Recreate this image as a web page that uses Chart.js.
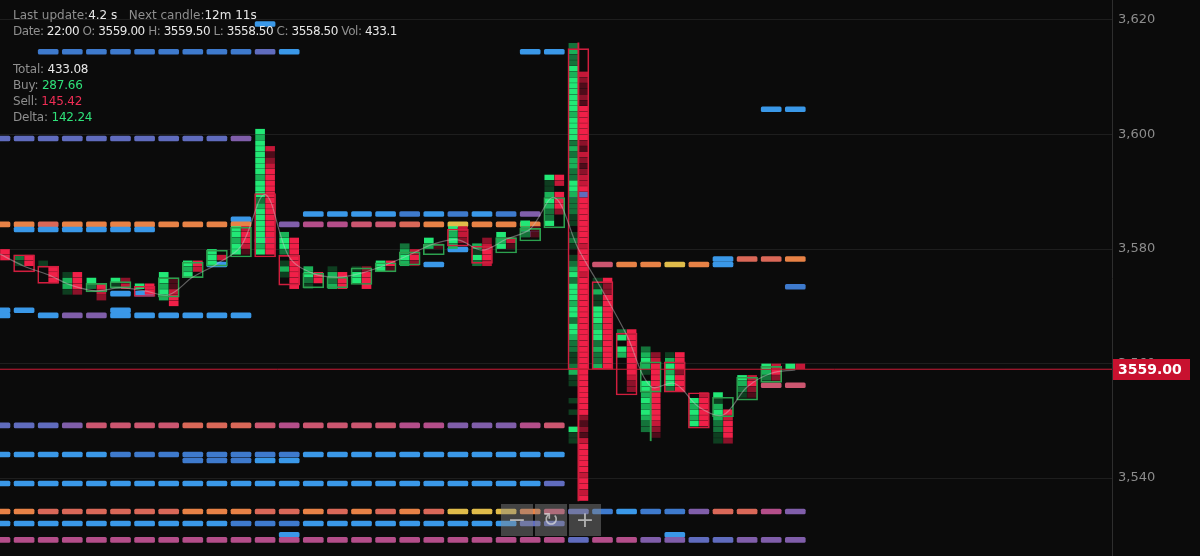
<!DOCTYPE html>
<html><head><meta charset="utf-8">
<script src="https://cdn.jsdelivr.net/npm/chart.js@4/dist/chart.umd.min.js"></script>
<style>
html,body{margin:0;padding:0;background:#0b0b0b;}
#wrap{position:relative;width:1200px;height:556px;overflow:hidden;background:#0b0b0b;}
canvas{position:absolute;left:0;top:0;}
.info{position:absolute;left:13px;font:12px "DejaVu Sans",sans-serif;color:#8f8f8f;line-height:16px;white-space:pre;}
.tight{letter-spacing:-0.45px}
.v{color:#e8e8e8}
.g{color:#2fe27a}
.r{color:#ef2d55}
.btn{position:absolute;top:504px;width:32px;height:32px;background:rgba(135,135,135,0.45);color:rgba(225,225,225,0.7);font:22px "DejaVu Sans",sans-serif;text-align:center;line-height:31px;}
</style></head>
<body>
<div id="wrap">
<canvas id="c" width="1200" height="556"></canvas>
<div class="info" style="top:7px">Last update:<span class="v">4.2 s</span>   Next candle:<span class="v">12m 11s</span></div>
<div class="info tight" style="top:23px">Date: <span class="v">22:00</span> O: <span class="v">3559.00</span> H: <span class="v">3559.50</span> L: <span class="v">3558.50</span> C: <span class="v">3558.50</span> Vol: <span class="v">433.1</span></div>
<div class="info" style="top:61px;letter-spacing:-0.2px">Total: <span class="v">433.08</span>
Buy: <span class="g">287.66</span>
Sell: <span class="r">145.42</span>
Delta: <span class="g">142.24</span></div>
<div class="btn" style="left:501px">−</div>
<div class="btn" style="left:535px;font-size:19px">↻</div>
<div class="btn" style="left:569px">+</div>
</div>
<script>
// ---- data ----
const yTicks = [3540, 3560, 3580, 3600, 3620];
const lastPrice = 3559.00;

// footprint: top edge of first cell and intensities (0-4) per cell going down
const buyTop = [3580,3579,3578,3576,3575,3575,3574,3576,3578,3580,3584,3601,3583,3577,3577,3577,3578,3581,3582,3584,3581,3583,3585,3593,3616,3575,3566,3563,3562,3554,3555,3558,3560,3560];
const buyCells = ["22","21","1","1331","42","41","4","44343","434","444","44344",
 "4344444434442344444434","344201310","3421","1323","144","44","2343","43","4343","3142","434","432","411343224",
 "2322"+"434444"+"4434444"+"2323322"+"4432"+"221101210"+"1234"+"24443442443"+"22112"+"3"+"110010100"+"4"+"11",
 "1131144434423223","24043","234310443434322","1343442","43434","413432211","4321","432","4"];
const sellTop = [3580,3579,3577,3576,3574,3575,3574,3575,3578,3579,3584,3598,3582,3576,3576,3577,3578,3580,3581,3584,3582,3582,3584,3593,3611,3575,3566,3562,3562,3555,3552,3558,3560,3560];
const sellCells = ["44","44","444","4442","432","23","44","11344","43","3","34431",
 "3123444444444444444","444444444","44","444","2444","41","342","1","332","23443","31","11","4304442",
 "3"+"21121"+"444444"+"2132123"+"340"+"4444444434444"+"3444444444444444"+"444444444"+"21213"+"4444434434",
 "4224444444444444","44444444322","234444444444321","4442444","344444","434442","3421","342","3"];

// candle bodies (open / close)
const bodyOpen  = [null,3579,3577,null,3572.5,3573.2,3573.5,3571.6,3575,3577,3578.6,3589.7,3578.9,3573.2,3573.2,3573.8,3576,3577.2,3579,3583.5,3580.5,3579.3,3581.4,3583.7,3615,3574.3,3565.3,3555,3560.3,3554.9,3550.7,3553.6,3556.7,null];
const bodyClose = [null,3576,3574,null,3574,3574.3,3571.7,3575,3577.7,3579.8,3583.8,3578.6,3573.7,3575.8,3575.1,3576.7,3577.6,3579.5,3580.8,3580.5,3577.5,3582,3583.6,3589,3559,3559,3554.5,3560.3,3555,3548.7,3554.1,3557.6,3559.5,null];
// visible wicks (high / low), null where hidden by the cells
const wickHigh = [null,null,null,null,null,null,null,null,null,null,null,null,null,null,null,null,null,null,null,null,null,null,null,null,3616,null,null,3556,null,null,null,null,null,null];
const wickLow  = [null,null,null,null,null,null,null,null,null,null,null,null,null,null,null,null,null,null,null,null,null,null,null,null,3536,null,null,3546.5,null,null,null,null,null,null];

// moving average line
const avgLine = [3579.1,3577.0,3575.5,3573.6,3572.7,3573.2,3572.7,3572.0,3575.1,3577.4,3580.5,3589.5,3578.6,3575.7,3575.1,3575.8,3577.2,3579.0,3580.9,3581.6,3579.8,3581.7,3583.5,3589.0,3580.0,3572.7,3565.0,3556.0,3556.5,3552.4,3551.0,3555.9,3558.3,3558.9];

// resting liquidity levels: price, first candle, level per candle (0 = none)
const dashPrice = [3619.3,3614.45,3614.45,3604.4,3599.3,3589.5,3586.1,3585.2,3584.3,3583.4,3582.6,3581.5,3579.9,3578.25,3577.3,3573.4,3572.2,3569.3,3568.4,3556.2,3549.2,3544.1,3543.05,3539.05,3534.15,3532.05,3530.1,3529.2];
const dashStart = [11,2,22,32,0,24,13,10,0,1,22,11,19,30,9,33,5,0,0,32,0,0,8,0,0,0,12,0];
const dashLevels = ["2","11111111132","22","22","33333333334","3","2222121214","2",
 "88788888888045566789888","222222","4","3","2","2778","2000000002000000688982","1","22","220002","20244222222","66",
 "333466667776566665544456","222221111111122222222222","11122","222222222222222222222223",
 "8877777788877878787999863121147754","222222222211122222222233","20000000000000002",
 "5555555555555555555555553554433444"];

// ---- styles ----
const greenRamp = [null,'rgb(14,62,32)','rgb(20,115,58)','rgb(26,178,88)','rgb(34,232,118)'];
const redRamp = [null,'rgb(78,12,26)','rgb(140,18,42)','rgb(196,24,56)','rgb(240,32,72)'];
const dashRamp = [null,'rgb(62,122,205)','rgb(58,152,232)','rgb(96,108,190)','rgb(128,94,170)','rgb(180,78,138)','rgb(204,86,112)','rgb(218,104,88)','rgb(232,130,70)','rgb(224,188,74)'];
const PX_PER_CANDLE = 24.1;
const colOff = 5 / PX_PER_CANDLE;

function cells(tops, strs, off) {
  const out = [];
  tops.forEach((top, k) => {
    const s = strs[k];
    for (let i = 0; i < s.length; i++) {
      const v = +s[i];
      if (!v) continue;
      const lo = top - i - 1;
      out.push({x: k + off, y: [lo + 0.08, lo + 0.92], v});
    }
  });
  return out;
}
const dashes = [];
dashPrice.forEach((p, r) => {
  const s = dashLevels[r];
  for (let j = 0; j < s.length; j++) {
    const v = +s[j];
    if (!v) continue;
    dashes.push({x: dashStart[r] + j, y: [p - 0.43, p + 0.43], v});
  }
});
const bodies = [];
const wicks = [];
bodyOpen.forEach((o, k) => {
  const c = bodyClose[k];
  if (o != null && c != null) bodies.push({x: k, y: [o, c], up: c > o});
  if (wickHigh[k] != null) wicks.push({x: k, y: [wickLow[k], wickHigh[k]], up: c > o});
});

const priceTag = {
  id: 'priceTag',
  afterDraw(chart) {
    const {ctx, scales: {y}} = chart;
    const py = y.getPixelForValue(lastPrice);
    ctx.save();
    ctx.fillStyle = '#c8112f';
    ctx.fillRect(y.left + 1, Math.round(py) - 10, 77, 21);
    ctx.fillStyle = '#ffffff';
    ctx.font = 'bold 14px "DejaVu Sans"';
    ctx.textBaseline = 'middle';
    ctx.fillText(lastPrice.toFixed(2), y.left + 6, Math.round(py) + 1);
    ctx.restore();
  }
};

new Chart(document.getElementById('c'), {
  type: 'bar',
  data: {
    datasets: [
      {type: 'line', data: [{x: -1, y: lastPrice}, {x: 60, y: lastPrice}], borderColor: 'rgb(205,28,55)', borderWidth: 1, pointRadius: 0, order: 0},
      {type: 'line', data: avgLine.map((v, k) => ({x: k, y: v})), borderColor: 'rgba(200,200,200,0.45)', borderWidth: 1.2, pointRadius: 0, tension: 0.35, order: 1},
      {data: bodies, grouped: false, barThickness: 21, backgroundColor: 'rgba(0,0,0,0)', borderWidth: 1, borderSkipped: false,
       borderColor: c => c.raw && c.raw.up ? 'rgb(44,160,78)' : 'rgb(208,30,62)', order: 2},
      {data: wicks, grouped: false, barThickness: 1.2, backgroundColor: c => c.raw && c.raw.up ? 'rgb(44,160,78)' : 'rgb(208,30,62)', order: 2},
      {data: cells(buyTop, buyCells, -colOff), grouped: false, barThickness: 9, backgroundColor: c => greenRamp[c.raw ? c.raw.v : 4], order: 3},
      {data: cells(sellTop, sellCells, colOff), grouped: false, barThickness: 9, backgroundColor: c => redRamp[c.raw ? c.raw.v : 4], order: 3},
      {data: dashes, grouped: false, barThickness: 20, borderRadius: 1.5, borderSkipped: false, backgroundColor: c => dashRamp[c.raw ? c.raw.v : 2], order: 4}
    ]
  },
  options: {
    responsive: false, animation: false, devicePixelRatio: 1,
    layout: {padding: 0},
    plugins: {legend: {display: false}, tooltip: {enabled: false}},
    scales: {
      x: {type: 'linear', min: 0, max: 1112 / PX_PER_CANDLE, display: false, offset: false},
      y: {type: 'linear', position: 'right', min: 3526.38, max: 3623.49,
        afterBuildTicks: s => { s.ticks = yTicks.map(v => ({value: v})); },
        afterFit: s => { s.width = 88; s.paddingTop = 0; s.paddingBottom = 0; },
        grid: {color: '#1e1e1e', drawTicks: false},
        border: {color: '#2e2e2e'},
        ticks: {color: '#8c8c8c', font: {family: 'DejaVu Sans', size: 13}, padding: 6}
      }
    }
  },
  plugins: [priceTag]
});
</script>
</body></html>
